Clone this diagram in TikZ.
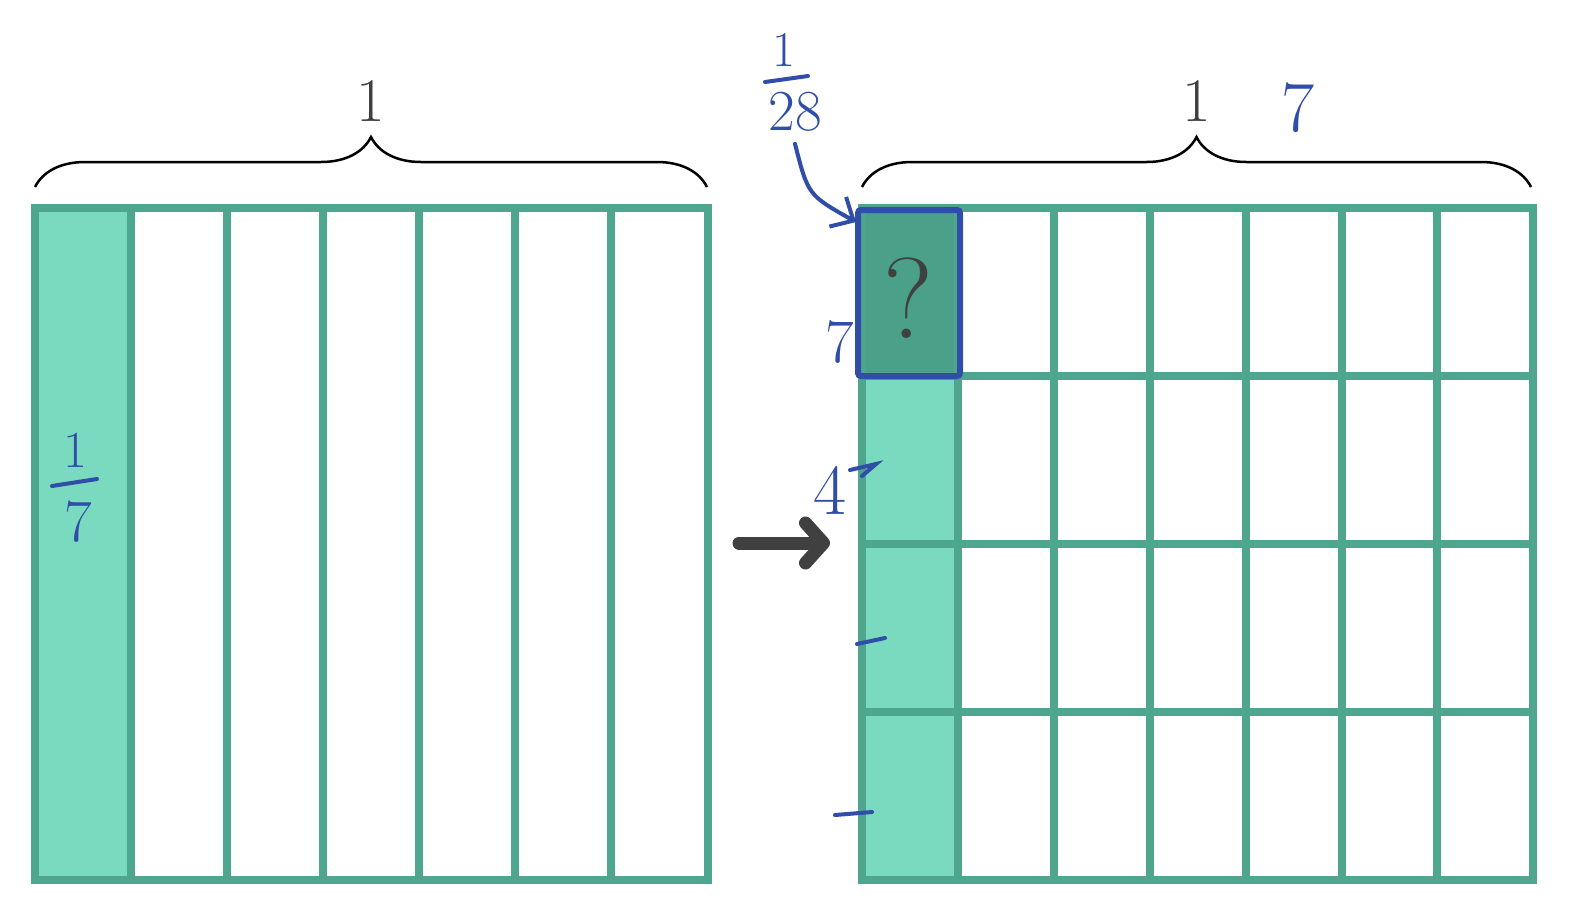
\documentclass[tikz,border=0pt]{standalone}
\usepackage{tikz}
\usetikzlibrary{decorations.pathreplacing,arrows.meta,calc}
\newcommand{\CELLW}{96}
\newcommand{\CELLH}{168}
\newcommand{\GRIDPT}{8pt}
\definecolor{mygreen}{RGB}{78,166,143}
\definecolor{mylight}{RGB}{122,218,192}
\definecolor{mydark}{RGB}{74,160,136}
\definecolor{myblue}{RGB}{48,78,168}
\definecolor{mygray}{RGB}{64,64,64}

\begin{document}
\begin{tikzpicture}[x=1pt,y=-1pt,
	gridline/.style={draw=mygreen,line width=\GRIDPT},
	bracket/.style={decorate,decoration={brace,amplitude=50pt,aspect=0.5},line width=2.5pt},
	pen/.style={color=myblue,line width=4pt,line cap=round},
	note/.style={text=myblue,inner sep=0pt}]
	
		\useasboundingbox[fill=white] (0,0) rectangle (1579,919);
		
		%% left square
		\coordinate (l1) at (35,208) ;
		\coordinate (l2) at (708,880) ;
		\fill[mylight] (l1) rectangle (131,880);
		\foreach \i in {1,...,6}
			\draw[gridline] ({35+\i*\CELLW},208) -- ({35+\i*\CELLW},880);
		\draw[gridline] (l1) rectangle (l2);
		
		%% right grid
		\coordinate (r1) at (862,208) ;
		\coordinate (r2) at (1533,880) ;
		\fill[mylight] (r1) rectangle (958,880);
		\fill[mydark] (r1) rectangle (958,376);
		\foreach \i in {1,...,6}
			\draw[gridline] ({862+\i*95.9},208) -- ({862+\i*95.9},880);
		\foreach \j in {1,...,3}
			\draw[gridline] (862,{208+\j*\CELLH}) -- (1533,{208+\j*\CELLH});
		\draw[gridline] (r1) rectangle (r2);
		\draw[myblue,line width=6pt,rounded corners=3pt] (858,210) rectangle (960,376);
		\node[text=mygray,font=\fontsize{115}{115}\selectfont] (q) at (908,298) {?};
		
		%% braces
		\draw[bracket] (35,187) -- (707,187) node[midway,above=64pt,inner sep=0pt,text=mygray,font=\fontsize{62}{62}\selectfont] (one1) {1};
		\draw[bracket] (862,187) -- (1531,187) node[midway,above=64pt,inner sep=0pt,text=mygray,font=\fontsize{62}{62}\selectfont] (one2) {1};
		
		%% arrow between
		\coordinate (a1) at (739,543) ;
		\coordinate (a2) at (830,543) ;
		\draw[mygray,line width=13pt,line cap=round,-{Straight Barb[length=18pt,width=40pt,line cap=round,line join=round]}] (a1) -- (a2);
		
		%% handwritten notes
		\node[note,font=\fontsize{52}{52}\selectfont] (f7a) at (75,450) {1};
		\node[note,font=\fontsize{60}{60}\selectfont] (f7b) at (78,522) {7};
		\draw[pen] (52,486) -- (97,479);
		\node[note,font=\fontsize{50}{50}\selectfont] (f28a) at (784,50) {1};
		\node[note,font=\fontsize{58}{58}\selectfont] (f28b) at (795,112) {28};
		\draw[pen] (765,82) -- (808,76);
		\node[note,font=\fontsize{72}{72}\selectfont] (n7) at (1298,108) {7};
		\node[note,font=\fontsize{62}{62}\selectfont] (n7b) at (840,342) {7};
		\node[note,font=\fontsize{72}{72}\selectfont] (n4) at (830,490) {4};
		\draw[pen,-{Straight Barb[length=18pt,width=34pt]}] ($(f28b.south)+(0,12)$) .. controls (808,195) .. (856,222);
		\coordinate (d1) at (857,644) ;
		\coordinate (d2) at (885,638) ;
		\coordinate (d3) at (835,815) ;
		\coordinate (d4) at (872,812) ;
		\draw[pen] (d1) -- (d2);
		\draw[pen] (d3) -- (d4);
		\draw[pen] (850,470) -- (876,464) -- (862,476);
	
	\end{tikzpicture}
\end{document}
